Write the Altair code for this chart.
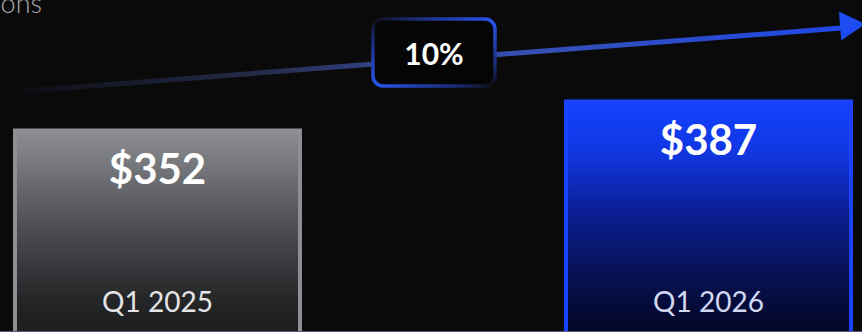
import altair as alt
import pandas as pd

# ---- data ----
QUARTERS = ["Q1 2025", "Q1 2026"]
REVENUE = [352, 387]
VALUE_LABELS = ["$352", "$387"]
GROWTH_LABEL = ["10%"]
UNIT_LABEL = ["$ in millions"]

# y scale window (value units) visible in the cropped picture
Y_MIN = 109
Y_MAX = 509.6

# growth arrow / badge, x as a fraction of the width, y in value units
ARROW_X = [0.029, 0.980]
ARROW_Y = [399.8, 476.1]
HEAD_X = [0.9891]
HEAD_Y = [479.4]
BOX_X = [0.4327]
BOX_X2 = [0.5742]
BOX_Y = [405.8]
BOX_Y2 = [486.7]
UNIT_X = [0.0487]
UNIT_Y = [493.9]

W, H = 862, 332
FONT = "Lato"

bars_df = pd.DataFrame({"quarter": QUARTERS, "revenue": REVENUE, "label": VALUE_LABELS})
arrow_df = pd.DataFrame({"x": ARROW_X, "y": ARROW_Y})
head_df = pd.DataFrame({"x": HEAD_X, "y": HEAD_Y})
box_df = pd.DataFrame({"x": BOX_X, "x2": BOX_X2, "y": BOX_Y, "y2": BOX_Y2, "label": GROWTH_LABEL,
                       "xc": [(a + b) / 2 for a, b in zip(BOX_X, BOX_X2)],
                       "yc": [(a + b) / 2 for a, b in zip(BOX_Y, BOX_Y2)]})
unit_df = pd.DataFrame({"x": UNIT_X, "y": UNIT_Y, "label": UNIT_LABEL})

yscale = alt.Scale(domain=[Y_MIN, Y_MAX], zero=False, nice=False)
xband = alt.Scale(type="band", domain=QUARTERS, range=[15, 851], paddingInner=0.4828, paddingOuter=0)
xdec = alt.Scale(domain=[0, 1], zero=False, nice=False)


def grad(stops, x1=0, x2=0, y1=0, y2=1):
    return alt.LinearGradient(
        gradient="linear",
        stops=[alt.GradientStop(color=c, offset=o) for o, c in stops],
        x1=x1, x2=x2, y1=y1, y2=y2,
    )


gray_grad = grad([(0, "#8d8e93"), (0.45, "#4e4f53"), (0.8, "#252628"), (1, "#18191b")])
blue_grad = grad([(0, "#1442ff"), (0.22, "#1136e0"), (0.45, "#0b1f96"), (0.7, "#071258"), (1, "#03051a")])
line_grad = grad([(0, "#0e0f14"), (0.3, "#262c4c"), (0.45, "#34468e"), (0.6, "#3550b0"), (1, "#2148e8")],
                 x1=0, x2=1, y1=0, y2=0)
box_grad = grad([(0, "#2a56f2"), (0.33, "#1b2c78"), (0.5, "#0e0e14"), (0.67, "#1b2c78"), (1, "#2a56f2")],
                x1=0, x2=1, y1=1, y2=0)

xenc = alt.X("quarter:N", scale=xband, axis=None)
yval = alt.Y("revenue:Q", scale=yscale, axis=None)
xd = alt.X("x:Q", scale=xdec, axis=None)
yd = alt.Y("y:Q", scale=yscale, axis=None)

bar_gray = alt.Chart(bars_df).transform_filter(alt.datum.quarter == QUARTERS[0]).mark_bar(
    fill=gray_grad, stroke="#8e8f95", strokeWidth=4, clip=True
).encode(x=xenc, y=yval, y2=alt.datum(Y_MIN - 12))

bar_blue = alt.Chart(bars_df).transform_filter(alt.datum.quarter == QUARTERS[1]).mark_bar(
    fill=blue_grad, stroke="#1a42ff", strokeWidth=4, clip=True
).encode(x=xenc, y=yval, y2=alt.datum(Y_MIN - 12))

value_text = alt.Chart(bars_df).mark_text(
    font=FONT, fontSize=42, fontWeight="bold", color="#ffffff", baseline="alphabetic", dy=53
).encode(x=xenc, y=yval, text="label:N")

quarter_text = alt.Chart(bars_df).mark_text(
    font=FONT, fontSize=28, baseline="alphabetic", dy=-20
).encode(
    x=xenc,
    y=alt.Y("base:Q", scale=yscale, axis=None),
    text="quarter:N",
    color=alt.Color("quarter:N", scale=alt.Scale(domain=QUARTERS, range=["#e4e4e6", "#d2d8f2"]), legend=None),
).transform_calculate(base=str(Y_MIN))

baseline = alt.Chart(bars_df).transform_aggregate(n="count()").transform_calculate(base=str(Y_MIN)).mark_rule(
    color="#55577e", strokeWidth=2
).encode(y=alt.Y("base:Q", scale=yscale, axis=None))

arrow_line = alt.Chart(arrow_df).mark_line(stroke=line_grad, strokeWidth=5, strokeCap="butt").encode(x=xd, y=yd)
arrow_head = alt.Chart(head_df).mark_point(
    shape="triangle-right", size=841, filled=True, fill="#1f4cf2", opacity=1, angle=355.6, strokeWidth=0
).encode(x=xd, y=yd)

box = alt.Chart(box_df).mark_rect(
    fill="#050506", stroke=box_grad, strokeWidth=3.5, cornerRadius=10
).encode(x=xd, x2="x2:Q", y=yd, y2="y2:Q")
box_text = alt.Chart(box_df).mark_text(
    font=FONT, fontSize=30, fontWeight="bold", color="#ffffff", baseline="alphabetic", dy=12
).encode(x=alt.X("xc:Q", scale=xdec, axis=None), y=alt.Y("yc:Q", scale=yscale, axis=None), text="label:N")
unit_text = alt.Chart(unit_df).mark_text(
    font=FONT, fontSize=27, fontWeight=300, color="#a9a9ad", align="right", baseline="alphabetic"
).encode(x=xd, y=yd, text="label:N")

chart = (
    alt.layer(bar_gray, bar_blue, value_text, quarter_text, unit_text, arrow_line, box, box_text, arrow_head, baseline)
    .resolve_scale(x="independent")
    .properties(width=W, height=H, padding=0, autosize=alt.AutoSizeParams(type="none"), background="#0a0a0a")
    .configure_view(stroke=None)
)

chart.save("out.html", embed_options={"renderer": "svg", "actions": False})
